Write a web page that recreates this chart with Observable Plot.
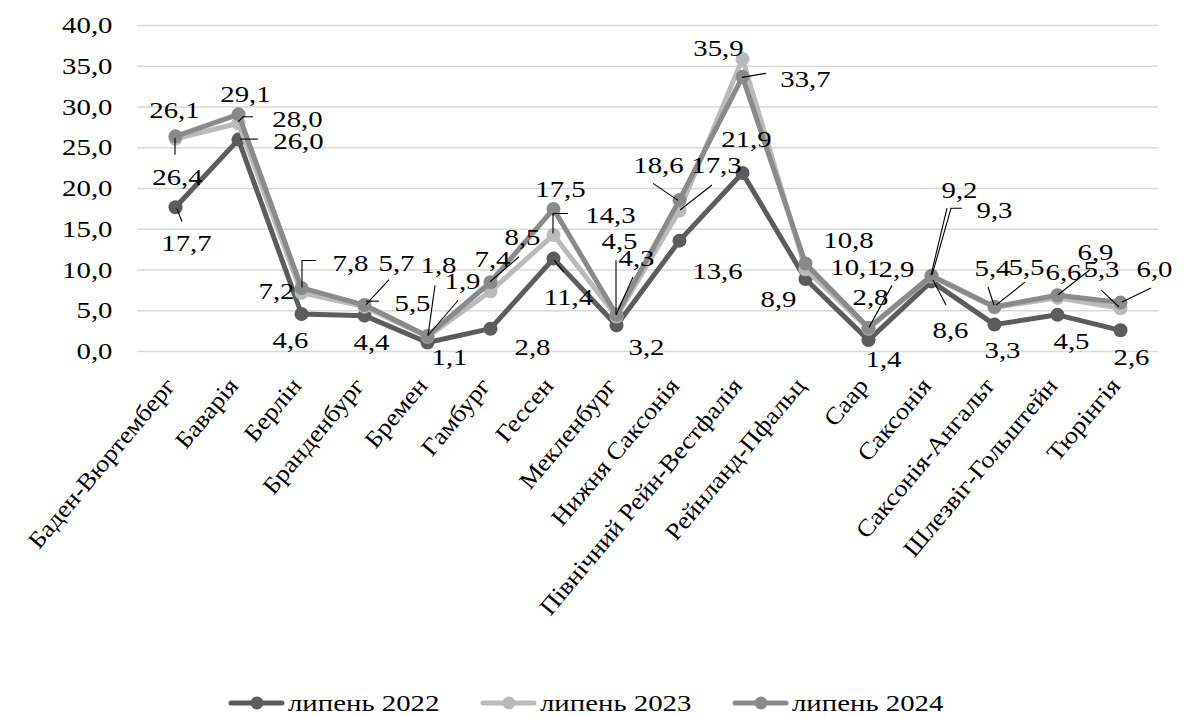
<!DOCTYPE html>
<html>
<head>
<meta charset="utf-8">
<script src="https://cdn.jsdelivr.net/npm/d3@7"></script>
<script src="https://cdn.jsdelivr.net/npm/@observablehq/plot@0.6"></script>
<style>
  html, body { margin: 0; padding: 0; background: #fff; }
  body { font-family: "Liberation Serif", "Times New Roman", serif; }
  #chart { width: 1186px; height: 716px; overflow: hidden; }
  #legend { display: flex; justify-content: center; align-items: center; height: 26px; padding-top: 18px; padding-right: 14px; gap: 40px; }
  .item { display: flex; align-items: center; }
  .item svg { display: block; margin-right: 3px; }
  .lbl { width: 152px; height: 26px; overflow: visible; white-space: nowrap; font-size: 24px; line-height: 26px; }
  .lbl span { display: inline-block; transform: scaleX(1.2); transform-origin: left center; }
</style>
</head>
<body>
<div id="chart"></div>
<script>
// ---- data ----
const states = ["Баден-Вюртемберг","Баварія","Берлін","Бранденбург","Бремен","Гамбург","Гессен","Мекленбург","Нижня Саксонія","Північний Рейн-Вестфалія","Рейнланд-Пфальц","Саар","Саксонія","Саксонія-Ангальт","Шлезвіг-Гольштейн","Тюрінгія"];
const jul2022 = [17.7,26.0,4.6,4.4,1.1,2.8,11.4,3.2,13.6,21.9,8.9,1.4,8.6,3.3,4.5,2.6];
const jul2023 = [26.1,28.0,7.2,5.5,1.8,7.4,14.3,4.3,17.3,35.9,10.1,2.8,9.2,5.4,6.6,5.3];
const jul2024 = [26.4,29.1,7.8,5.7,1.9,8.5,17.5,4.5,18.6,33.7,10.8,2.9,9.3,5.5,6.9,6.0];
const seriesNames = ["липень 2022","липень 2023","липень 2024"];
const yTicks = [0,5,10,15,20,25,30,35,40];

// ---- styles / layout ----
const colors = ["#5c5c5c","#bababa","#8a8a8a"];
const series = [jul2022, jul2023, jul2024];
// data-label offsets (px) from each point
const labelOffsets = [
  [[11,36],[60,2],[-11,26],[7,27],[22,15],[42,19],[15,39],[30,22],[38,31],[4,-34],[-27,20],[15,19],[19,49],[8,26],[14,26],[11,27]],
  [[-1,-28],[59,-4],[-25,-2],[48,-3],[11,-72],[2,-32],[57,-20],[20,-58],[37,-45],[-24,-11],[50,-2],[2,-31],[28,-86],[-2,-39],[6,-25],[-19,-39]],
  [[2,41],[7,-20],[49,-25],[32,-42],[35,-55],[32,-45],[7,-20],[3,-74],[-21,-35],[63,2],[43,-23],[28,-59],[63,-65],[32,-39],[38,-43],[34,-33]]
];
// leader lines: [series, state index, pixel offsets from the point]
const leaders = [
  [0,0,[[2,2],[7,15]]],
  [2,0,[[0,2],[0,19]]],
  [0,1,[[2,0],[20,0]]],
  [1,1,[[0,-1],[5,-6],[15,-6]]],
  [2,2,[[1,0],[1,-27],[15,-27]]],
  [1,3,[[2,-5],[15,-5]]],
  [2,3,[[2,0],[25,-25]]],
  [1,4,[[1,-1],[8,-51]]],
  [2,4,[[1,0],[31,-35]]],
  [2,5,[[0,0],[29,-25]]],
  [0,6,[[1,2],[11,14]]],
  [1,6,[[0,-1],[0,-21],[15,-21]]],
  [1,7,[[0,-1],[17,-39]]],
  [2,7,[[0,0],[0,-54]]],
  [1,8,[[1,0],[33,-25]]],
  [2,8,[[-1,1],[-26,-16]]],
  [2,9,[[0,1],[24,-3]]],
  [2,11,[[1,0],[24,-42]]],
  [0,12,[[2,-1],[15,24]]],
  [1,12,[[0,-1],[16,-68]]],
  [2,12,[[1,0],[20,-67],[31,-67]]],
  [1,13,[[0,-2],[-6,-20]]],
  [2,13,[[2,-1],[31,-24]]],
  [2,14,[[1,0],[33,-25]]],
  [1,15,[[-1,-1],[-19,-18]]],
  [2,15,[[2,0],[31,-14]]]
];

const fmt = v => v.toFixed(1).replace(".", ",");

const rows = series.map((vals, s) => states.map((st, i) => ({state: st, value: vals[i], s})));

const marks = [
  Plot.ruleY(yTicks, {stroke: "#d9d9d9", strokeWidth: 1.7})
];
rows.forEach((data, s) => {
  marks.push(Plot.line(data, {x: "state", y: "value", stroke: colors[s], strokeWidth: 5, strokeLinejoin: "round", strokeLinecap: "round"}));
  marks.push(Plot.dot(data, {x: "state", y: "value", r: 7, fill: colors[s], stroke: "none"}));
});
marks.push((index, scales) => {
  const g = d3.create("svg:g").attr("stroke", "#000").attr("stroke-width", 1.1).attr("fill", "none");
  for (const [s, i, pts] of leaders) {
    const px = scales.x(states[i]), py = scales.y(series[s][i]);
    g.append("path").attr("d", "M" + pts.map(([a, b]) => `${px + a},${py + b}`).join("L"));
  }
  return g.node();
});
rows.forEach((data, s) => {
  data.forEach((d, i) => {
    const [dx, dy] = labelOffsets[s][i];
    marks.push(Plot.text([d], {x: "state", y: "value", text: dd => fmt(dd.value), dx, dy, fill: "#000"}));
  });
});
marks.push(Plot.text(yTicks, {y: d => d, frameAnchor: "left", text: d => fmt(d), textAnchor: "end", dx: -25, fill: "#000"}));
marks.push(Plot.text(states, {x: d => d, frameAnchor: "bottom", text: d => d, rotate: -50, textAnchor: "end", lineAnchor: "top", dx: -12, dy: 24, fill: "#000"}));

const plot = Plot.plot({
  width: 1186,
  height: 672,
  marginTop: 25,
  marginBottom: 321,
  marginLeft: 137,
  marginRight: 28,
  x: {type: "point", domain: states, padding: 0.5, axis: null},
  y: {domain: [0, 40], axis: null},
  style: {fontFamily: '"Liberation Serif", "Times New Roman", serif', fontSize: "24px", color: "#000", background: "#fff", overflow: "visible"},
  marks
});

// widen glyphs like the reference rendering (numbers more, category labels less)
const stateSet = new Set(states);
plot.querySelectorAll("text").forEach(t => {
  const k = stateSet.has(t.textContent) ? 1.1 : 1.2;
  const tr = t.getAttribute("transform");
  if (tr) t.setAttribute("transform", tr + ` scale(${k},1)`);
  else {
    const x = t.getAttribute("x") || 0, y = t.getAttribute("y") || 0;
    t.removeAttribute("x"); t.removeAttribute("y");
    t.setAttribute("transform", `translate(${x},${y}) scale(${k},1)`);
  }
});

const chart = document.getElementById("chart");
chart.appendChild(plot);

const legend = document.createElement("div");
legend.id = "legend";
seriesNames.forEach((name, s) => {
  const item = document.createElement("div");
  item.className = "item";
  item.innerHTML = `<svg width="57" height="16"><line x1="3" y1="8" x2="54" y2="8" stroke="${colors[s]}" stroke-width="5" stroke-linecap="round"/><circle cx="29" cy="8" r="6.5" fill="${colors[s]}"/></svg><div class="lbl"><span>${name}</span></div>`;
  legend.appendChild(item);
});
chart.appendChild(legend);
</script>
</body>
</html>
